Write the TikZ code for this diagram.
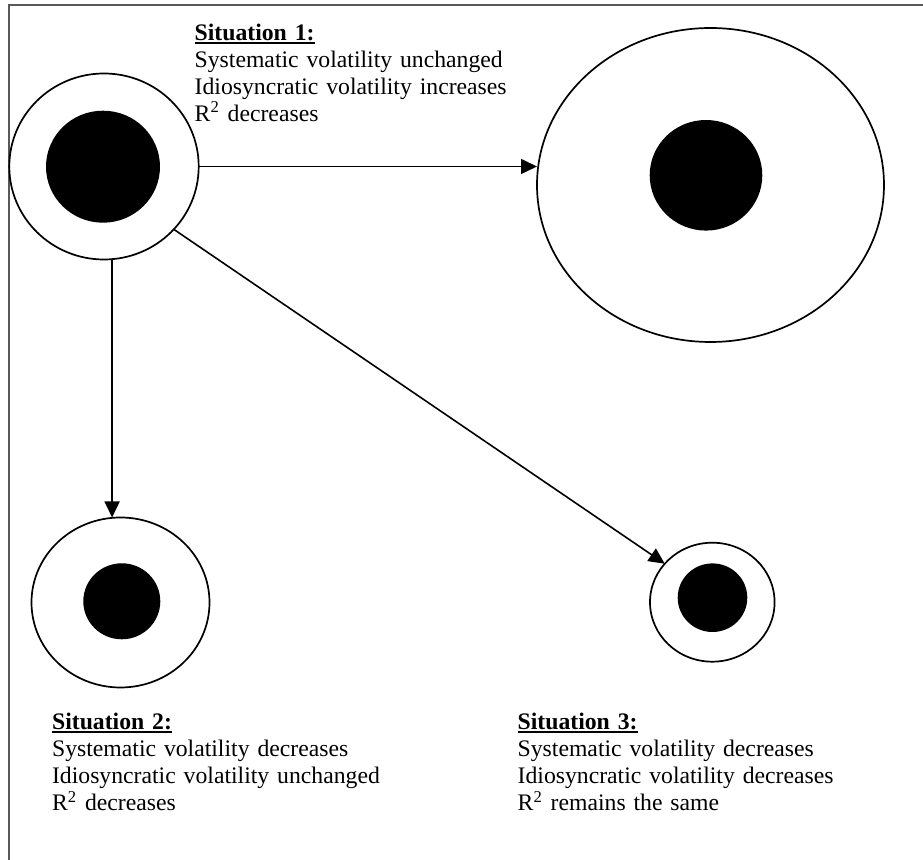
\documentclass[tikz,border=0pt]{standalone}
\usepackage{fontspec}
\setmainfont{Liberation Serif}
\usetikzlibrary{shapes.geometric,arrows.meta}
\newcommand\sitlabel[1]{\setbox0\hbox{\textbf{#1}}\rlap{\rule[-1.6pt]{\wd0}{0.9pt}}\box0}
\tikzset{
  ring/.style={ellipse, draw, line width=0.85pt, fill=white, inner sep=0pt, outer sep=0pt},
  disk/.style={ellipse, fill=black, draw=none, inner sep=0pt, outer sep=0pt},
  arr/.style={line width=0.8pt, -{Triangle[length=8pt,width=7.5pt]}},
  txt/.style={anchor=base west, inner sep=0pt, text width=220pt, align=left,
              font=\fontsize{11.85pt}{13.5pt}\selectfont},
  frame/.style={draw=black!65, line width=0.6pt}
}
\begin{document}
\begin{tikzpicture}[x=0.5pt,y=-0.5pt]
\useasboundingbox (0,0) rectangle (923,860);
% frame (cropped at right and bottom)
\coordinate (fbl) at (9,880);
\coordinate (ftl) at (9,5);
\coordinate (ftr) at (940,5);
\draw[frame] (fbl) -- (ftl) -- (ftr);

% starting situation
\node[ring, minimum width=94.7pt, minimum height=93pt] (c1) at (104,166.5) {};
\node[disk, minimum width=57pt, minimum height=56pt] (d1) at (103,166.7) {};

% situation 1
\node[ring, minimum width=173.5pt, minimum height=157pt] (big) at (710.5,185) {};
\node[disk, minimum width=56.3pt, minimum height=55.3pt] (dbig) at (706,175.3) {};

% situation 2
\node[ring, minimum width=89pt, minimum height=85pt] (c2) at (120.5,602.5) {};
\node[disk, minimum width=38.5pt, minimum height=38pt] (d2) at (121.8,601.3) {};

% situation 3
\node[ring, minimum width=62.3pt, minimum height=59.5pt] (c3) at (712.3,602.2) {};
\node[disk, minimum width=34.8pt, minimum height=34.3pt] (d3) at (712.5,597.7) {};

% connectors
\draw[arr] (c1.east) -- (c1.east -| big.west);
\draw[arr] (c1.-85.3) -- (c1.-85.3 |- c2.north);
\draw[arr] (c1.-42.6) -- (c3.141.6);

% texts
\node[txt] (s1) at (194.3,40.7) {\sitlabel{Situation 1:}\\Systematic volatility unchanged\\Idiosyncratic volatility increases\\R\textsuperscript{2} decreases};
\node[txt] (s2) at (51.7,730) {\sitlabel{Situation 2:}\\Systematic volatility decreases\\Idiosyncratic volatility unchanged\\R\textsuperscript{2} decreases};
\node[txt] (s3) at (517.3,730) {\sitlabel{Situation 3:}\\Systematic volatility decreases\\Idiosyncratic volatility decreases\\R\textsuperscript{2} remains the same};
\end{tikzpicture}
\end{document}
